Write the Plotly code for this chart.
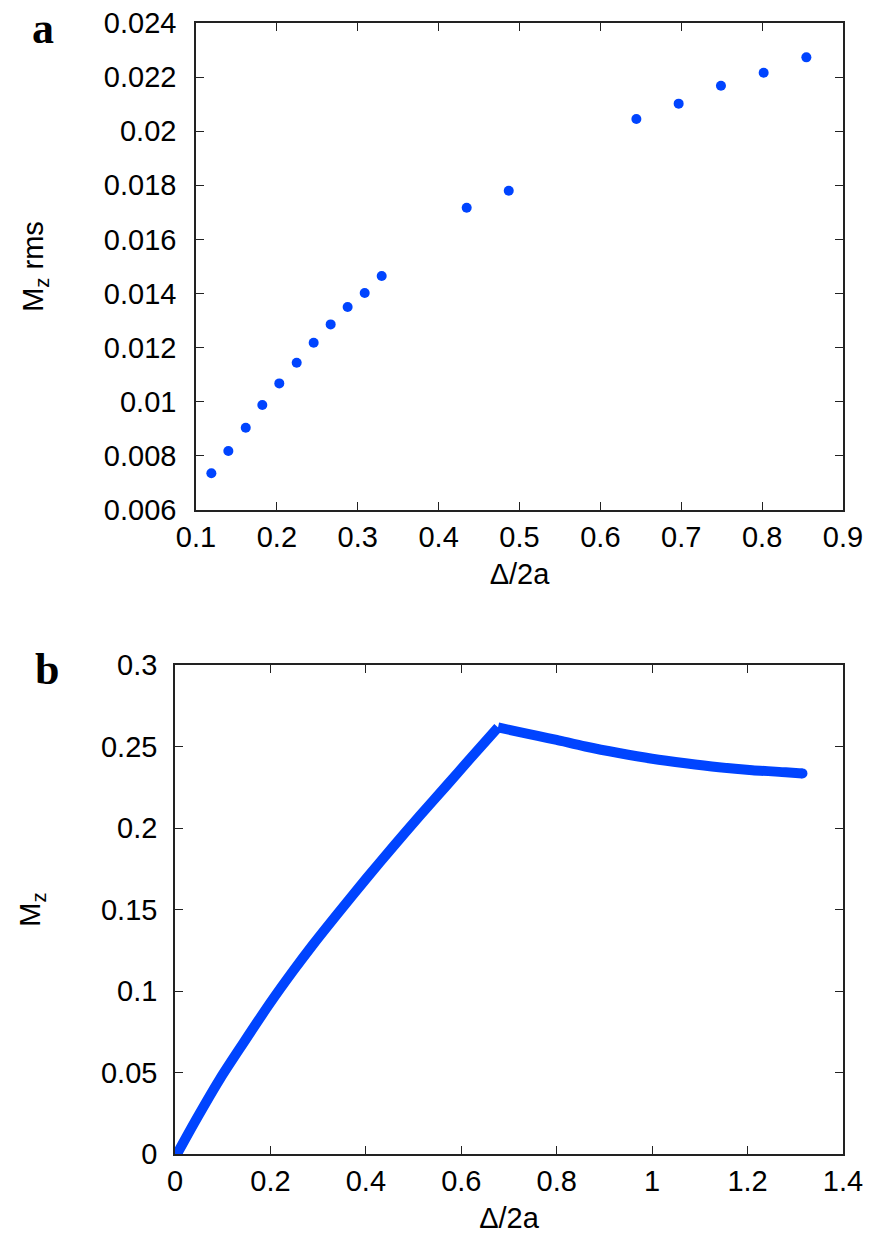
import plotly.graph_objects as go

# Panel a: rms magnetisation vs Delta/2a
a_x = [0.119, 0.140, 0.1615, 0.182, 0.203, 0.2245, 0.2455, 0.2665, 0.2875, 0.3086, 0.3296,
       0.4347, 0.4867, 0.6445, 0.6968, 0.7491, 0.8019, 0.8547]
a_y = [0.00736, 0.00818, 0.00904, 0.00988, 0.01068, 0.01144, 0.01218, 0.01286, 0.0135, 0.01402, 0.01465,
       0.01717, 0.0178, 0.02045, 0.02102, 0.02168, 0.02216, 0.02273]

# Panel b: Mz vs Delta/2a (rising branch and falling branch meet at the peak)
b_rise_x = [0.006, 0.042, 0.094, 0.143, 0.199, 0.248, 0.290, 0.352, 0.401, 0.457, 0.513, 0.569, 0.617, 0.677]
b_rise_y = [0.001, 0.0200, 0.0460, 0.0680, 0.0925, 0.1125, 0.1288, 0.1515, 0.1690, 0.1885, 0.2075, 0.2260, 0.2420, 0.2617]
b_fall_x = [0.677, 0.72, 0.76, 0.80, 0.86, 0.93, 1.00, 1.07, 1.14, 1.21, 1.28, 1.315]
b_fall_y = [0.2617, 0.2590, 0.2565, 0.2540, 0.2500, 0.2460, 0.2425, 0.2397, 0.2373, 0.2355, 0.2342, 0.2335]

a_xticks = [0.1, 0.2, 0.3, 0.4, 0.5, 0.6, 0.7, 0.8, 0.9]
a_xtext = ["0.1", "0.2", "0.3", "0.4", "0.5", "0.6", "0.7", "0.8", "0.9"]
a_yticks = [0.006, 0.008, 0.010, 0.012, 0.014, 0.016, 0.018, 0.020, 0.022, 0.024]
a_ytext = ["0.006", "0.008", "0.01", "0.012", "0.014", "0.016", "0.018", "0.02", "0.022", "0.024"]
b_xticks = [0, 0.2, 0.4, 0.6, 0.8, 1.0, 1.2, 1.4]
b_xtext = ["0", "0.2", "0.4", "0.6", "0.8", "1", "1.2", "1.4"]
b_yticks = [0, 0.05, 0.1, 0.15, 0.2, 0.25, 0.3]
b_ytext = ["0", "0.05", "0.1", "0.15", "0.2", "0.25", "0.3"]

BLUE = "#0044ff"
FONT = "Liberation Sans, Arial, sans-serif"
SERIF = "Liberation Serif, Times New Roman, serif"
FS = 29
W, H = 873, 1249

fig = go.Figure()
fig.add_trace(go.Scatter(x=a_x, y=a_y, mode="markers", xaxis="x", yaxis="y",
                         marker=dict(color=BLUE, size=10), showlegend=False))
for bx, by in ((b_rise_x, b_rise_y), (b_fall_x, b_fall_y)):
    fig.add_trace(go.Scatter(x=bx, y=by, mode="lines", xaxis="x2", yaxis="y2",
                             line=dict(color=BLUE, width=10, shape="spline", smoothing=0.8),
                             showlegend=False))
# rounded ends of the thick curve
fig.add_trace(go.Scatter(x=[b_rise_x[0], b_fall_x[-1]], y=[b_rise_y[0], b_fall_y[-1]], mode="markers",
                         xaxis="x2", yaxis="y2", marker=dict(color=BLUE, size=10), showlegend=False))

axis_common = dict(showline=True, linecolor="#222", linewidth=1.5, mirror="ticks",
                   ticks="inside", ticklen=8, tickwidth=1.2, tickcolor="#222",
                   showgrid=False, zeroline=False, automargin=False,
                   tickfont=dict(family=FONT, size=FS, color="#000"))
title_font = dict(family=FONT, size=FS, color="#000")

fig.update_layout(
    width=W, height=H,
    margin=dict(l=0, r=0, t=0, b=0, autoexpand=False),
    paper_bgcolor="white", plot_bgcolor="white",
    font=dict(family=FONT, color="#000"),
    xaxis=dict(domain=[196 / W, 843 / W], anchor="y", range=[0.1, 0.9],
               tickmode="array", tickvals=a_xticks, ticktext=a_xtext,
               title=dict(text="Δ/2a", font=title_font, standoff=12),
               **axis_common),
    yaxis=dict(domain=[1 - 510 / H, 1 - 23 / H], anchor="x", range=[0.006, 0.024],
               tickmode="array", tickvals=a_yticks, ticktext=a_ytext, ticklabelstandoff=12,
               title=dict(text="M<sub>z</sub> rms", font=title_font, standoff=52),
               **axis_common),
    xaxis2=dict(domain=[175 / W, 843 / W], anchor="y2", range=[0, 1.4],
                tickmode="array", tickvals=b_xticks, ticktext=b_xtext,
                title=dict(text="Δ/2a", font=title_font, standoff=12),
                **axis_common),
    yaxis2=dict(domain=[1 - 1154 / H, 1 - 665 / H], anchor="x2", range=[0, 0.3],
                tickmode="array", tickvals=b_yticks, ticktext=b_ytext, ticklabelstandoff=10,
                title=dict(text="M<sub>z</sub>", font=title_font, standoff=52),
                **axis_common),
    annotations=[
        dict(text="<b>a</b>", x=43 / W, y=1 - 2 / H, xref="paper", yref="paper",
             xanchor="center", yanchor="top", showarrow=False,
             font=dict(family=SERIF, size=44, color="#000")),
        dict(text="<b>b</b>", x=47 / W, y=1 - 643 / H, xref="paper", yref="paper",
             xanchor="center", yanchor="top", showarrow=False,
             font=dict(family=SERIF, size=44, color="#000")),
    ],
)

fig.write_html("out.html")
